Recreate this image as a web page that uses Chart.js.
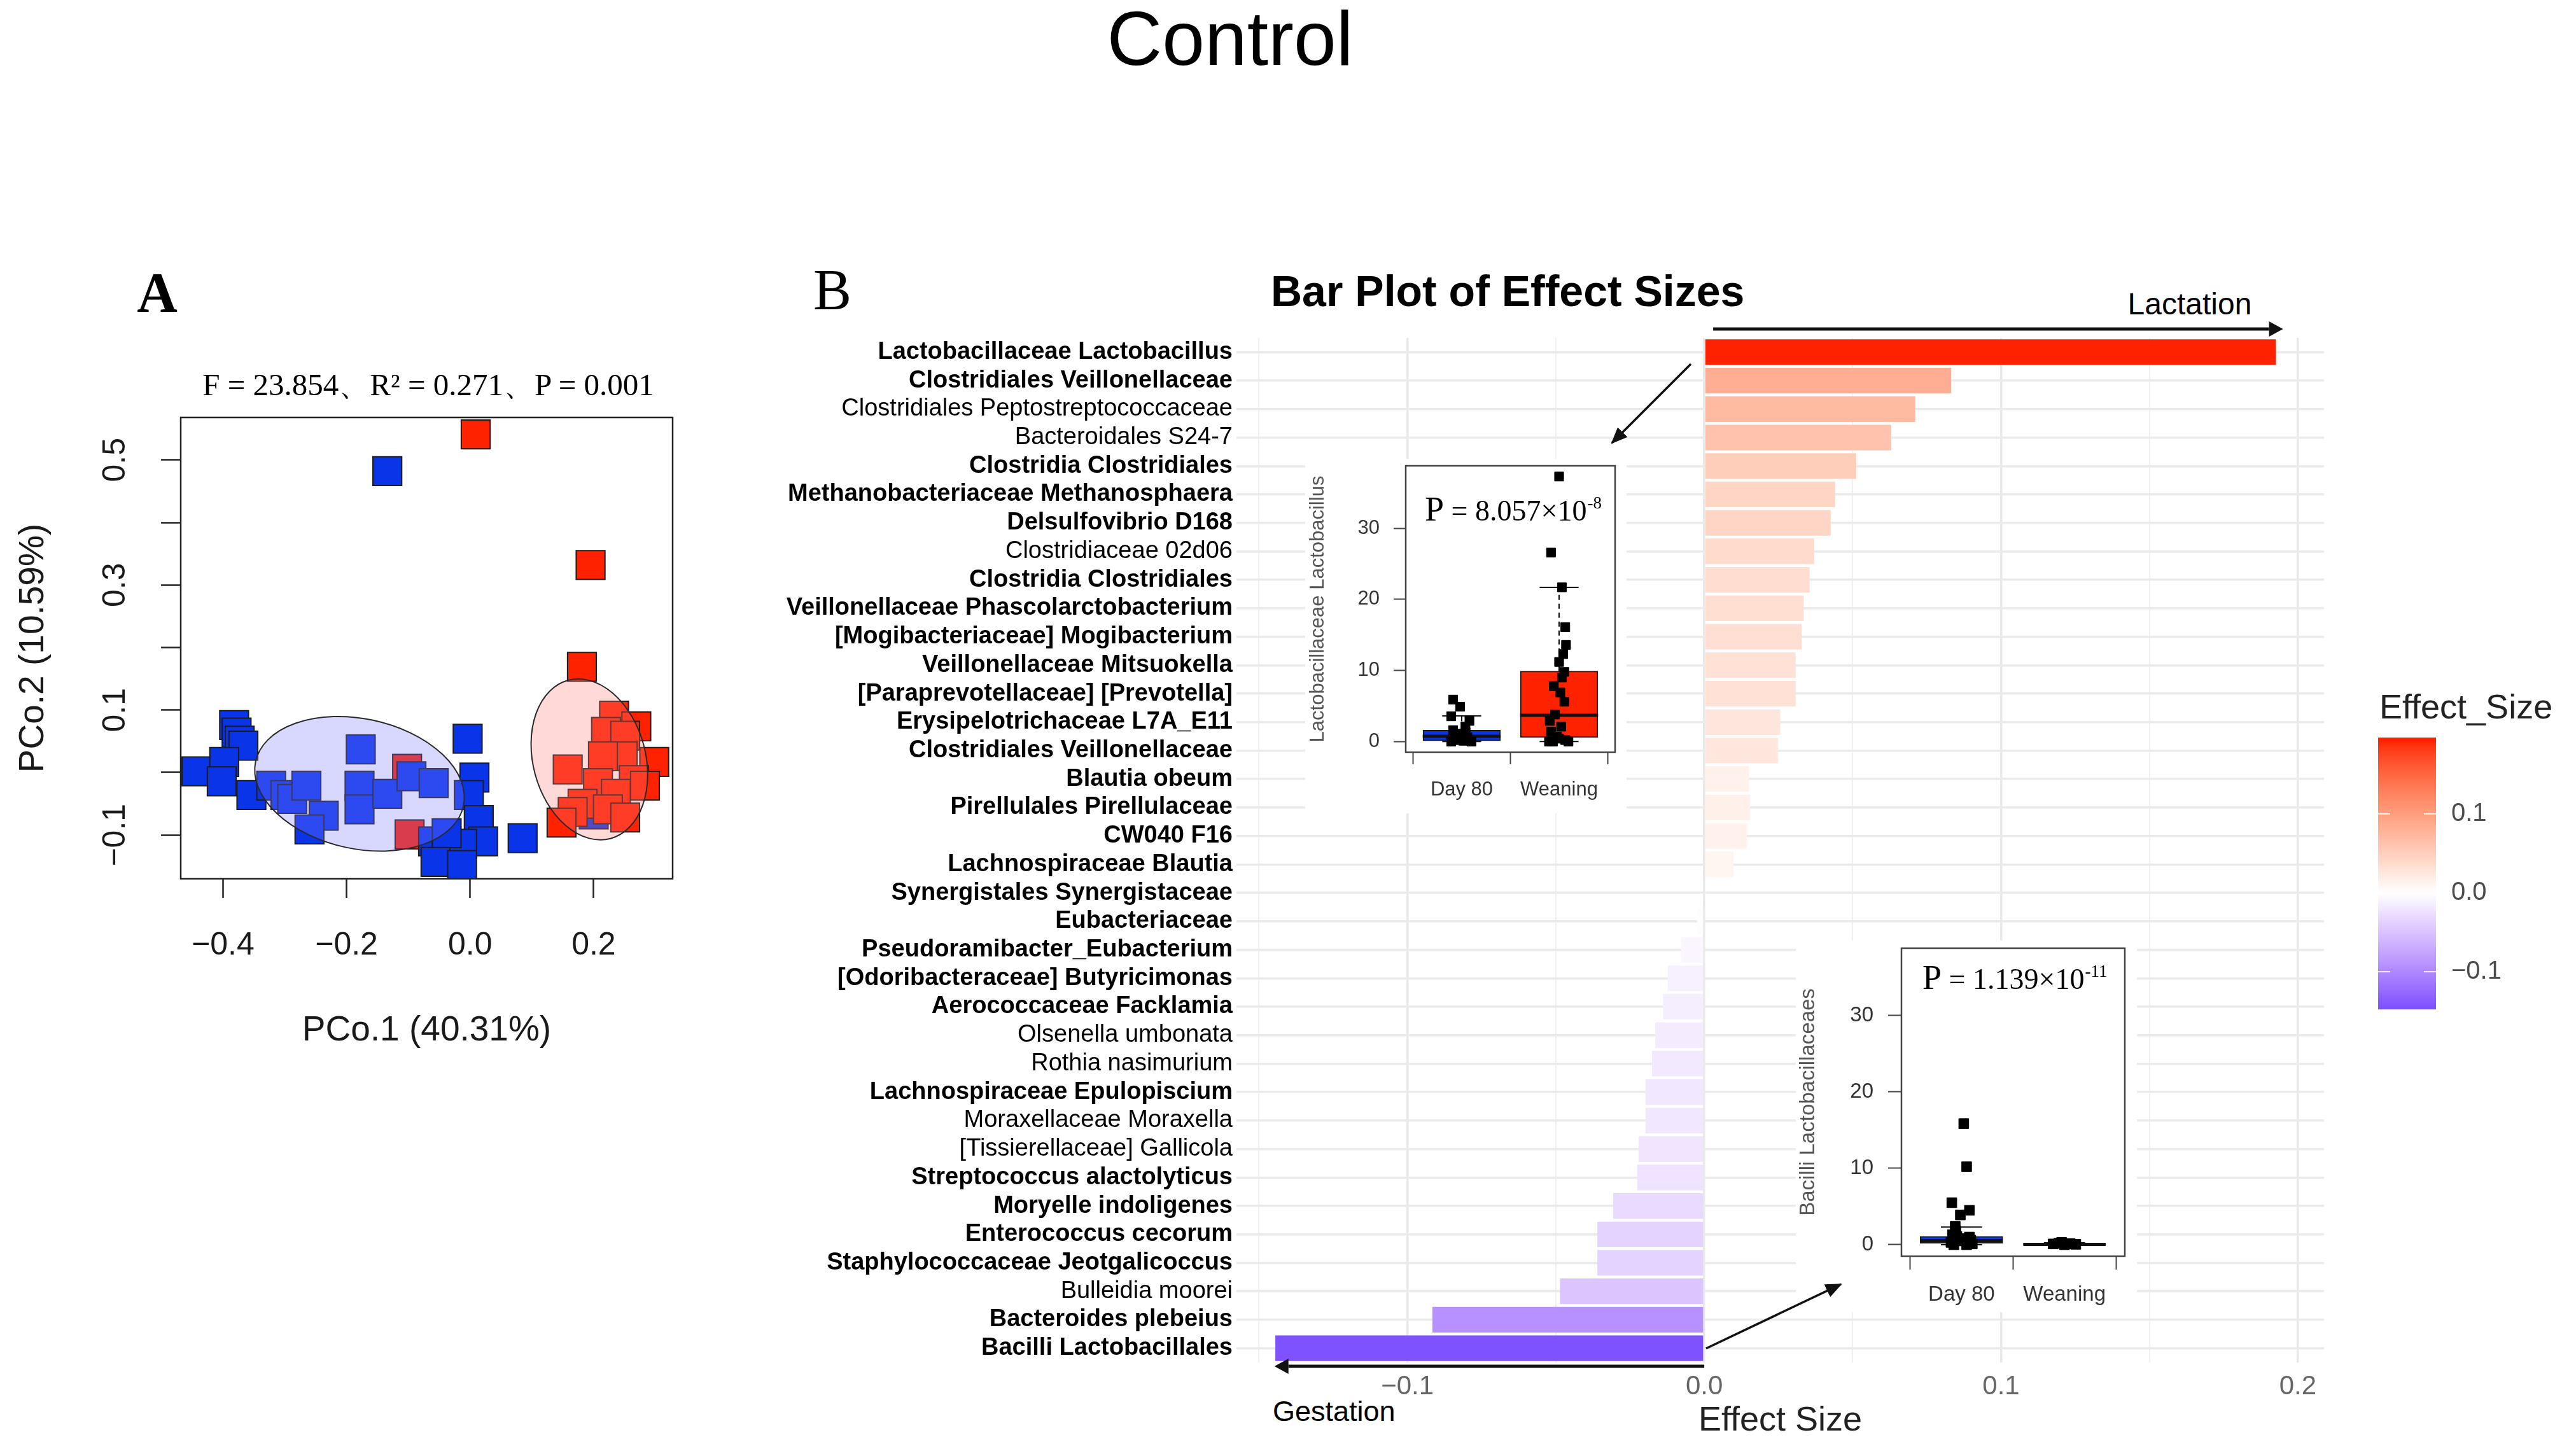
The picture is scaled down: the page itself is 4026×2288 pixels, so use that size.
<!DOCTYPE html>
<html>
<head>
<meta charset="utf-8">
<script src="https://cdn.jsdelivr.net/npm/chart.js@4.4.1/dist/chart.umd.min.js"></script>
<style>
  body { margin: 0; width: 4026px; height: 2288px; position: relative; background: #fff; overflow: hidden;
         font-family: "Liberation Sans", Arial, Helvetica, sans-serif; }
  canvas { position: absolute; }
  .t { position: absolute; white-space: nowrap; line-height: 1; transform: translate(-50%, -50%); color: #000; }
  .l { transform: translate(0, -50%); }
  .serif { font-family: "Liberation Serif", "Times New Roman", serif; }
</style>
</head>
<body>
<div class="t" style="left:1933px;top:60px;font-size:120px;">Control</div>
<div class="t serif" style="left:247px;top:460px;font-size:88px;font-weight:bold;">A</div>
<div class="t serif" style="left:1308px;top:456px;font-size:90px;">B</div>
<div class="t serif" style="left:673px;top:604px;font-size:49px;">F = 23.854、R² = 0.271、P = 0.001</div>
<div class="t l" style="left:1997px;top:457px;font-size:68px;font-weight:bold;">Bar Plot of Effect Sizes</div>
<div class="t" style="left:3441px;top:478px;font-size:48px;">Lactation</div>
<div class="t l" style="left:2000px;top:2217px;font-size:45px;">Gestation</div>

<canvas id="pcoa" width="1100" height="1160" style="left:0;top:540px;"></canvas>
<canvas id="bars" width="2926" height="1908" style="left:1100px;top:380px;"></canvas>
<canvas id="box1" width="505" height="557" style="left:2051px;top:721px;background:#fff;z-index:2;"></canvas>
<canvas id="box2" width="536" height="584" style="left:2822px;top:1478px;background:#fff;z-index:2;"></canvas>

<svg width="4026" height="2288" style="position:absolute;left:0;top:0;z-index:5;pointer-events:none;">
  <defs>
    <marker id="head" markerUnits="userSpaceOnUse" markerWidth="26" markerHeight="22" refX="24" refY="11" orient="auto">
      <path d="M0,0 L26,11 L0,22 z" fill="#111"></path>
    </marker>
  </defs>
  <line x1="2657" y1="572" x2="2533" y2="696" stroke="#111" stroke-width="3.5" marker-end="url(#head)"></line>
  <line x1="2681" y1="2119" x2="2893" y2="2018" stroke="#111" stroke-width="3.5" marker-end="url(#head)"></line>
</svg>

<script>
// ---------- Panel B : effect sizes ----------
const taxa = [
  "Lactobacillaceae Lactobacillus", "Clostridiales Veillonellaceae", "Clostridiales Peptostreptococcaceae",
  "Bacteroidales S24-7", "Clostridia Clostridiales", "Methanobacteriaceae Methanosphaera",
  "Delsulfovibrio D168", "Clostridiaceae 02d06", "Clostridia Clostridiales",
  "Veillonellaceae Phascolarctobacterium", "[Mogibacteriaceae] Mogibacterium", "Veillonellaceae Mitsuokella",
  "[Paraprevotellaceae] [Prevotella]", "Erysipelotrichaceae L7A_E11", "Clostridiales Veillonellaceae",
  "Blautia obeum", "Pirellulales Pirellulaceae", "CW040 F16", "Lachnospiraceae Blautia",
  "Synergistales Synergistaceae", "Eubacteriaceae", "Pseudoramibacter_Eubacterium",
  "[Odoribacteraceae] Butyricimonas", "Aerococcaceae Facklamia", "Olsenella umbonata",
  "Rothia nasimurium", "Lachnospiraceae Epulopiscium", "Moraxellaceae Moraxella",
  "[Tissierellaceae] Gallicola", "Streptococcus alactolyticus", "Moryelle indoligenes",
  "Enterococcus cecorum", "Staphylococcaceae Jeotgalicoccus", "Bulleidia moorei",
  "Bacteroides plebeius", "Bacilli Lactobacillales"
];
const effectSize = [
  0.1926, 0.0832, 0.0711, 0.0630, 0.0512, 0.0441, 0.0426, 0.0370, 0.0355, 0.0335, 0.0328, 0.0308,
  0.0308, 0.0256, 0.0249, 0.0151, 0.0154, 0.0143, 0.0099, 0.0005, -0.0024, -0.0078, -0.0123, -0.0139,
  -0.0165, -0.0176, -0.0198, -0.0198, -0.0221, -0.0226, -0.0307, -0.0360, -0.0360, -0.0486, -0.0916, -0.1445
];
// names printed in normal weight (the rest are bold)
const plainTaxa = ["Clostridiales Peptostreptococcaceae", "Bacteroidales S24-7", "Clostridiaceae 02d06",
  "Olsenella umbonata", "Rothia nasimurium", "Moraxellaceae Moraxella", "[Tissierellaceae] Gallicola", "Bulleidia moorei"];
const legendTicks = [0.1, 0.0, -0.1];

// ---------- Panel A : PCoA ----------
const pcoaX = [0.200,
  0.009, 0.195, 0.181, 0.233, 0.269, 0.220, 0.251, 0.247, 0.215, 0.298, 0.158, 0.207, 0.265, 0.283,
  0.236, 0.182, 0.166, 0.148, 0.223, 0.251, -0.102, -0.098,
  -0.134, -0.443, -0.382, -0.378, -0.373, -0.367, -0.398, -0.402, -0.354, -0.322, -0.299, -0.288,
  -0.265, -0.237, -0.260, -0.177, -0.179, -0.179, -0.134, -0.095, -0.059, -0.004, 0.007, -0.002,
  0.014, 0.021, -0.013, -0.060, -0.038, -0.056, -0.013, 0.085];
const pcoaY = [-0.067,
  0.541, 0.332, 0.169, 0.091, 0.074, 0.065, 0.059, 0.026, 0.026, 0.017, 0.005, -0.017, -0.012, -0.021,
  -0.034, -0.050, -0.063, -0.080, -0.059, -0.072, 0.006, -0.099,
  0.482, 0.002, 0.076, 0.064, 0.051, 0.043, 0.017, -0.014, -0.036, -0.021, -0.036, -0.042,
  -0.021, -0.069, -0.091, 0.037, -0.021, -0.059, -0.034, -0.006, -0.017, 0.054, -0.008, -0.036,
  -0.076, -0.110, -0.114, -0.110, -0.097, -0.143, -0.148, -0.105];
const pcoaGroup = ["Day 80",
  "Weaning", "Weaning", "Weaning", "Weaning", "Weaning", "Weaning", "Weaning", "Weaning", "Weaning", "Weaning",
  "Weaning", "Weaning", "Weaning", "Weaning", "Weaning", "Weaning", "Weaning", "Weaning", "Weaning", "Weaning",
  "Weaning", "Weaning",
  "Day 80", "Day 80", "Day 80", "Day 80", "Day 80", "Day 80", "Day 80", "Day 80", "Day 80", "Day 80", "Day 80",
  "Day 80", "Day 80", "Day 80", "Day 80", "Day 80", "Day 80", "Day 80", "Day 80", "Day 80", "Day 80", "Day 80",
  "Day 80", "Day 80", "Day 80", "Day 80", "Day 80", "Day 80", "Day 80", "Day 80", "Day 80", "Day 80"];
const pcoaXTicks = [-0.4, -0.2, 0.0, 0.2];
const pcoaYTicks = [-0.1, 0.0, 0.1, 0.2, 0.3, 0.4, 0.5];
const pcoaYLabels = [-0.1, 0.1, 0.3, 0.5];
// group ellipses: centre, semi-axes (data units) and tilt in degrees
const ellipseCx = [-0.179, 0.193];
const ellipseCy = [-0.018, 0.021];
const ellipseRx = [0.172, 0.091];
const ellipseRy = [0.104, 0.131];
const ellipseRot = [12, -15];

// ---------- inset box plots ----------
const boxGroups = ["Day 80", "Weaning"];
const lactoDay80 = [5.9, 4.9, 3.55, 2.9, 2.1, 1.6, 1.3, 1.1, 0.6, 0.35, 0.2, 0.1, 0.0, 0.0];
const lactoDay80Jit = [-0.088, -0.017, -0.108, 0.079, 0.038, -0.088, 0.04, -0.025, 0.058, -0.067, -0.046, 0.017, 0.1, -0.108];
const lactoWeaning = [37.3, 26.6, 21.7, 16.1, 13.6, 12.3, 11.2, 9.8, 9.0, 7.8, 6.9, 5.6, 3.8, 2.9, 2.1, 1.4, 0.7, 0.4, 0.2, 0, 0, 0];
const lactoWeaningJit = [0, -0.083, 0.029, 0.063, 0.071, 0.042, 0, 0.054, 0.029, -0.054, 0.013, 0.054, -0.042, -0.096, 0.021, -0.083, -0.021, 0, 0.063, -0.063, 0.096, -0.104];
const lactoQ1 = [0.1, 0.6], lactoMed = [0.75, 3.7], lactoQ3 = [1.6, 9.9], lactoLo = [0, 0], lactoHi = [3.6, 21.7];

const bacDay80 = [15.85, 10.2, 5.5, 4.5, 3.9, 2.4, 1.8, 1.3, 1.0, 0.8, 0.6, 0.5, 0.3, 0.1, 0, 0];
const bacDay80Jit = [0.022, 0.05, -0.094, 0.077, -0.011, -0.061, -0.055, -0.088, 0.077, 0.022, 0.09, -0.033, -0.102, 0.105, -0.074, 0.05];
const bacWeaning = [0.1, 0.2, 0, 0.15, 0.05, 0.3, 0.1];
const bacWeaningJit = [-0.11, -0.055, 0, 0.055, 0.11, -0.028, 0.028];
const bacQ1 = [0.2, 0], bacMed = [0.55, 0.05], bacQ3 = [1.1, 0.12], bacLo = [0, 0], bacHi = [2.3, 0.25];
const boxYTicks = [0, 10, 20, 30];

Chart.defaults.font.family = '"Liberation Sans", Arial, Helvetica, sans-serif';
Chart.defaults.animation = false;
Chart.defaults.plugins.legend.display = false;
Chart.defaults.plugins.tooltip.enabled = false;

const SERIF = '"Liberation Serif", "Times New Roman", serif';
const BLUE = "#0a34e8", RED = "#ff2200";
const groupColor = { "Day 80": BLUE, "Weaning": RED };
const ellipseFill = ["rgba(125,125,255,0.30)", "rgba(255,125,125,0.30)"];

// colour scale like scale_fill_gradient2 (interpolated in Lab)
function lin(c) { c /= 255; return c <= 0.04045 ? c / 12.92 : Math.pow((c + 0.055) / 1.055, 2.4); }
function unlin(c) { const v = c <= 0.0031308 ? 12.92 * c : 1.055 * Math.pow(c, 1 / 2.4) - 0.055; return Math.round(Math.max(0, Math.min(1, v)) * 255); }
function toLab(rgb) {
  const R = lin(rgb[0]), G = lin(rgb[1]), B = lin(rgb[2]);
  const X = (0.4124 * R + 0.3576 * G + 0.1805 * B) / 0.95047;
  const Y = 0.2126 * R + 0.7152 * G + 0.0722 * B;
  const Z = (0.0193 * R + 0.1192 * G + 0.9505 * B) / 1.08883;
  const f = t => t > 0.008856 ? Math.cbrt(t) : 7.787 * t + 16 / 116;
  return [116 * f(Y) - 16, 500 * (f(X) - f(Y)), 200 * (f(Y) - f(Z))];
}
function fromLab(lab) {
  const fy = (lab[0] + 16) / 116, fx = fy + lab[1] / 500, fz = fy - lab[2] / 200;
  const g = t => t * t * t > 0.008856 ? t * t * t : (t - 16 / 116) / 7.787;
  const X = g(fx) * 0.95047, Y = g(fy), Z = g(fz) * 1.08883;
  const r = 3.2406 * X - 1.5372 * Y - 0.4986 * Z;
  const gg = -0.9689 * X + 1.8758 * Y + 0.0415 * Z;
  const b = 0.0557 * X - 0.2040 * Y + 1.0570 * Z;
  return "rgb(" + unlin(r) + "," + unlin(gg) + "," + unlin(b) + ")";
}
const HIGH = [255, 34, 0], LOW = [127, 82, 255], MID = [255, 255, 255];
const vMax = Math.max(...effectSize), vMin = Math.min(...effectSize);
function fillFor(v) {
  const t = v >= 0 ? Math.min(v / vMax, 1) : Math.min(v / vMin, 1);
  const a = toLab(MID), b = toLab(v >= 0 ? HIGH : LOW);
  return fromLab(a.map((c, i) => c + (b[i] - c) * t));
}
const fmt = v => (v < -1e-9 ? "\u2212" : "") + Math.abs(v).toFixed(1);

// keep the plot area exactly where afterFit puts it (no extra room for edge labels)
function noEdgePadding(s) { s.paddingTop = 0; s.paddingBottom = 0; s.paddingLeft = 0; s.paddingRight = 0; }

function arrow(ctx, x1, y1, x2, y2, w, hl, hw) {
  const ang = Math.atan2(y2 - y1, x2 - x1), c = Math.cos(ang), s = Math.sin(ang);
  ctx.strokeStyle = "#111"; ctx.fillStyle = "#111"; ctx.lineWidth = w;
  ctx.beginPath(); ctx.moveTo(x1, y1); ctx.lineTo(x2 - hl * c, y2 - hl * s); ctx.stroke();
  ctx.beginPath(); ctx.moveTo(x2, y2);
  ctx.lineTo(x2 - hl * c + hw * s, y2 - hl * s - hw * c);
  ctx.lineTo(x2 - hl * c - hw * s, y2 - hl * s + hw * c);
  ctx.closePath(); ctx.fill();
}

// ---------------- Panel A ----------------
const pcoaDecor = {
  id: "pcoaDecor",
  afterDatasetsDraw(chart) {
    const { ctx, scales: { x, y } } = chart;
    ctx.save();
    ellipseCx.forEach((cx, i) => {
      const px = x.getPixelForValue(cx), py = y.getPixelForValue(ellipseCy[i]);
      const rx = Math.abs(x.getPixelForValue(cx + ellipseRx[i]) - px);
      const ry = Math.abs(y.getPixelForValue(ellipseCy[i] + ellipseRy[i]) - py);
      ctx.beginPath();
      ctx.ellipse(px, py, rx, ry, ellipseRot[i] * Math.PI / 180, 0, Math.PI * 2);
      ctx.fillStyle = ellipseFill[i];
      ctx.fill();
      ctx.lineWidth = 2;
      ctx.strokeStyle = "#2a2a2a";
      ctx.stroke();
    });
    ctx.restore();
  },
  afterDraw(chart) {
    const { ctx, chartArea: a, scales: { y } } = chart;
    ctx.save();
    ctx.lineWidth = 2.5;
    ctx.strokeStyle = "#222";
    ctx.strokeRect(a.left, a.top, a.right - a.left, a.bottom - a.top);
    // R style vertical tick labels on the y axis
    ctx.fillStyle = "#1a1a1a";
    ctx.font = '50px "Liberation Sans", Arial, sans-serif';
    ctx.textAlign = "center";
    ctx.textBaseline = "middle";
    pcoaYLabels.forEach(v => {
      ctx.save();
      ctx.translate(a.left - 102, y.getPixelForValue(v));
      ctx.rotate(-Math.PI / 2);
      ctx.fillText(fmt(v), 0, 0);
      ctx.restore();
    });
    ctx.restore();
  }
};

new Chart(document.getElementById("pcoa"), {
  type: "scatter",
  data: {
    datasets: [{
      data: pcoaX.map((v, i) => ({ x: v, y: pcoaY[i] })),
      pointStyle: "rect",
      pointRadius: 32,
      pointBackgroundColor: pcoaGroup.map(g => groupColor[g]),
      pointBorderColor: "#1c1c1c",
      pointBorderWidth: 2
    }]
  },
  options: {
    responsive: false,
    devicePixelRatio: 1,
    layout: { padding: { left: 0, top: 116, right: 43, bottom: 0 } },
    scales: {
      x: {
        type: "linear", min: -0.4684, max: 0.3278,
        afterBuildTicks: s => { s.ticks = pcoaXTicks.map(v => ({ value: v })); },
        afterFit: s => { s.height = 319; noEdgePadding(s); },
        ticks: { callback: v => fmt(v), font: { size: 50 }, color: "#1a1a1a", padding: 45, autoSkip: false, maxRotation: 0 },
        grid: { drawOnChartArea: false, drawTicks: true, tickLength: 30, tickWidth: 2.5, tickColor: "#222" },
        border: { display: false },
        title: { display: true, text: "PCo.1 (40.31%)", font: { size: 55 }, color: "#1a1a1a", padding: { top: 0, bottom: 47 } }
      },
      y: {
        type: "linear", min: -0.170, max: 0.568,
        afterBuildTicks: s => { s.ticks = pcoaYTicks.map(v => ({ value: v })); },
        afterFit: s => { s.width = 284; noEdgePadding(s); },
        ticks: { display: false },
        grid: { drawOnChartArea: false, drawTicks: true, tickLength: 31, tickWidth: 2.5, tickColor: "#222" },
        border: { display: false },
        title: { display: true, text: "PCo.2 (10.59%)", font: { size: 55 }, color: "#1a1a1a", padding: { top: 20, bottom: 0 } }
      }
    }
  },
  plugins: [pcoaDecor]
});

// ---------------- Panel B ----------------
const barDecor = {
  id: "barDecor",
  afterDraw(chart) {
    const { ctx, chartArea: a, scales: { x } } = chart;
    ctx.save();
    arrow(ctx, x.getPixelForValue(0.003), a.top - 14, x.getPixelForValue(0.195), a.top - 14, 5, 22, 12);
    arrow(ctx, x.getPixelForValue(0), a.bottom + 6, x.getPixelForValue(-0.1448), a.bottom + 6, 5, 22, 12);

    // colour bar legend
    const lx = a.right + 85, lw = 91, zeroY = a.top + 872, k = 1240;
    const top = zeroY - 0.196 * k, bottom = zeroY + 0.147 * k;
    for (let yy = Math.floor(top); yy < bottom; yy++) {
      ctx.fillStyle = fillFor((zeroY - yy - 0.5) / k);
      ctx.fillRect(lx, yy, lw, 1.2);
    }
    ctx.strokeStyle = "rgba(255,255,255,0.85)";
    ctx.lineWidth = 2;
    ctx.font = '40px "Liberation Sans", Arial, sans-serif';
    ctx.textAlign = "left";
    ctx.textBaseline = "middle";
    legendTicks.forEach(v => {
      const yy = zeroY - v * k;
      ctx.beginPath();
      ctx.moveTo(lx, yy); ctx.lineTo(lx + 19, yy);
      ctx.moveTo(lx + lw - 19, yy); ctx.lineTo(lx + lw, yy);
      ctx.stroke();
      ctx.fillStyle = "#4d4d4d";
      ctx.fillText(fmt(v), lx + lw + 24, yy);
    });
    ctx.fillStyle = "#222";
    ctx.font = '54px "Liberation Sans", Arial, sans-serif';
    ctx.fillText("Effect_Size", lx + 2, top - 46);
    ctx.restore();
  }
};

new Chart(document.getElementById("bars"), {
  type: "bar",
  data: {
    labels: taxa,
    datasets: [{
      data: effectSize,
      backgroundColor: effectSize.map(fillFor),
      barPercentage: 0.9,
      categoryPercentage: 1
    }]
  },
  options: {
    indexAxis: "y",
    responsive: false,
    devicePixelRatio: 1,
    layout: { padding: { left: 0, top: 151, right: 374, bottom: 0 } },
    scales: {
      x: {
        type: "linear", min: -0.1576, max: 0.2088,
        afterFit: s => { s.height = 147; noEdgePadding(s); },
        ticks: {
          stepSize: 0.05, includeBounds: false, autoSkip: false, maxRotation: 0,
          callback: v => Math.abs(v * 10 - Math.round(v * 10)) < 1e-6 ? fmt(v) : "",
          font: { size: 42 }, color: "#666", padding: 13
        },
        grid: {
          drawTicks: false,
          color: c => Math.abs(c.tick.value * 10 - Math.round(c.tick.value * 10)) < 1e-6 ? "#e9e9e9" : "#f1f1f1",
          lineWidth: c => Math.abs(c.tick.value * 10 - Math.round(c.tick.value * 10)) < 1e-6 ? 3.5 : 2
        },
        border: { display: false },
        title: { display: true, text: "Effect Size", font: { size: 54 }, color: "#222", padding: { top: 0, bottom: 22 } }
      },
      y: {
        afterFit: s => { s.width = 843; noEdgePadding(s); },
        ticks: {
          autoSkip: false, padding: 6, color: "#000",
          font: c => ({ size: 38, weight: plainTaxa.includes(taxa[c.index]) ? "normal" : "bold" })
        },
        grid: { offset: false, drawTicks: false, color: "#ebebeb", lineWidth: 3.5 },
        border: { display: false }
      }
    }
  },
  plugins: [barDecor]
});

// ---------------- inset box plots ----------------
function boxChart(id, cfg) {
  const half = 0.4;
  const med = [], caps = [], stems = [], pts = [];
  boxGroups.forEach((g, i) => {
    const c = i + 1;
    med.push({ x: c - half, y: cfg.med[i] }, { x: c + half, y: cfg.med[i] }, { x: c, y: null });
    caps.push({ x: c - half / 2, y: cfg.hi[i] }, { x: c + half / 2, y: cfg.hi[i] }, { x: c, y: null },
              { x: c - half / 2, y: cfg.lo[i] }, { x: c + half / 2, y: cfg.lo[i] }, { x: c, y: null });
    stems.push({ x: c, y: cfg.q3[i] }, { x: c, y: cfg.hi[i] }, { x: c, y: null },
               { x: c, y: cfg.q1[i] }, { x: c, y: cfg.lo[i] }, { x: c, y: null });
    cfg.values[i].forEach((v, k) => pts.push({ x: c + cfg.jitter[i][k], y: v }));
  });
  const lineStyle = { type: "line", pointRadius: 0, borderColor: "#111", fill: false, tension: 0, spanGaps: false };
  const decor = {
    id: "boxDecor" + id,
    afterDraw(chart) {
      const { ctx, chartArea: a } = chart;
      ctx.save();
      ctx.lineWidth = 2.5;
      ctx.strokeStyle = "#444";
      ctx.strokeRect(a.left, a.top, a.right - a.left, a.bottom - a.top);
      ctx.fillStyle = "#000";
      ctx.textBaseline = "alphabetic";
      let px = a.left + cfg.pX, py = a.top + cfg.pY;
      ctx.font = "54px " + SERIF;
      ctx.fillText("P", px, py); px += ctx.measureText("P").width;
      ctx.font = "46px " + SERIF;
      const body = " = " + cfg.p + "\u00d710";
      ctx.fillText(body, px, py); px += ctx.measureText(body).width;
      ctx.font = "27px " + SERIF;
      ctx.fillText(cfg.exp, px + 1, py - 19);
      ctx.restore();
    }
  };
  new Chart(document.getElementById(id), {
    type: "bar",
    data: {
      datasets: [
        { type: "scatter", data: pts, pointStyle: "rect", pointRadius: cfg.pr, backgroundColor: "#000", borderColor: "#000", order: 0 },
        Object.assign({ data: med, borderWidth: 5, order: 1 }, lineStyle),
        Object.assign({ data: caps, borderWidth: 2, order: 2 }, lineStyle),
        Object.assign({ data: stems, borderWidth: 2, borderDash: [8, 6], order: 3 }, lineStyle),
        {
          type: "bar", order: 4,
          data: boxGroups.map((g, i) => ({ x: i + 1, y: [cfg.q1[i], cfg.q3[i]] })),
          backgroundColor: [BLUE, RED], borderColor: "#1a1a1a", borderWidth: 2, borderSkipped: false,
          barThickness: cfg.bw
        }
      ]
    },
    options: {
      responsive: false,
      devicePixelRatio: 1,
      layout: { padding: { left: 0, top: cfg.top, right: cfg.right, bottom: 0 } },
      scales: {
        x: {
          type: "linear", min: cfg.xmin, max: cfg.xmax, offset: false,
          afterBuildTicks: s => { s.ticks = boxGroups.map((g, i) => ({ value: i + 1 })); },
          afterFit: s => { s.height = cfg.xh; noEdgePadding(s); },
          ticks: { callback: v => boxGroups[Math.round(v) - 1], font: { size: cfg.fs }, color: "#333", padding: cfg.xpad, autoSkip: false, maxRotation: 0 },
          grid: { drawOnChartArea: false, drawTicks: true, tickLength: cfg.tl, tickWidth: 2, tickColor: "#444" },
          border: { display: false }
        },
        y: {
          type: "linear", min: -1.5, max: 38.8,
          afterBuildTicks: s => { s.ticks = boxYTicks.map(v => ({ value: v })); },
          afterFit: s => { s.width = cfg.yw; noEdgePadding(s); },
          ticks: { font: { size: cfg.fs }, color: "#333", padding: cfg.ypad },
          grid: { drawOnChartArea: false, drawTicks: true, tickLength: cfg.tl, tickWidth: 2, tickColor: "#444" },
          border: { display: false },
          title: { display: true, text: cfg.title, font: { size: cfg.tfs }, color: "#555", padding: { top: cfg.tpad, bottom: 0 } }
        }
      }
    },
    plugins: [decor]
  });
}

boxChart("box1", {
  values: [lactoDay80, lactoWeaning], jitter: [lactoDay80Jit, lactoWeaningJit],
  q1: lactoQ1, med: lactoMed, q3: lactoQ3, lo: lactoLo, hi: lactoHi,
  title: "Lactobacillaceae Lactobacillus", p: "8.057", exp: "-8",
  xmin: 0.425, xmax: 2.575, top: 5, right: 18, xh: 96, yw: 158, bw: 122, pr: 10,
  fs: 31, tfs: 31, tpad: 2, tl: 19, xpad: 22, ypad: 22, pX: 30, pY: 86
});
boxChart("box2", {
  values: [bacDay80, bacWeaning], jitter: [bacDay80Jit, bacWeaningJit],
  q1: bacQ1, med: bacMed, q3: bacQ3, lo: bacLo, hi: bacHi,
  title: "Bacilli Lactobacillaceaes", p: "1.139", exp: "-11",
  xmin: 0.417, xmax: 2.586, top: 10, right: 19, xh: 88, yw: 166, bw: 130, pr: 11,
  fs: 33, tfs: 33, tpad: 0, tl: 21, xpad: 20, ypad: 23, pX: 33, pY: 64
});
</script>
</body>
</html>
